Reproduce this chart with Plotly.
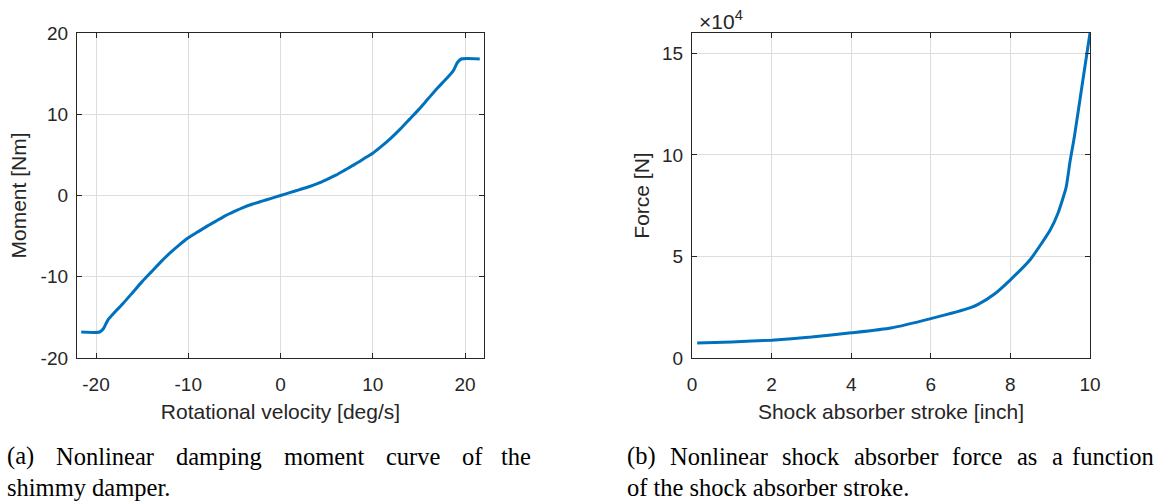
import plotly.graph_objects as go

# ---- Data (a): shimmy damper moment curve ----
vel_deg_s = [-21.6, -19.6, -19.2, -18.7, -18.0, -17.0, -16.0, -15.0, -14.0, -13.0, -12.0, -11.0,
             -10.0, -9.0, -8.0, -7.0, -6.0, -5.0, -4.0, -3.0, -2.0, -1.0, 0.0,
             1.0, 2.0, 3.0, 4.0, 5.0, 6.0, 7.0, 8.0, 9.0, 10.0, 11.0, 12.0, 13.0, 14.0,
             15.0, 16.0, 17.0, 18.0, 18.7, 19.2, 19.6, 21.6]
moment_Nm = [-16.8, -16.8, -16.4, -15.3, -14.4, -13.2, -11.9, -10.6, -9.4, -8.2, -7.1, -6.1,
             -5.2, -4.5, -3.8, -3.15, -2.5, -1.95, -1.45, -1.05, -0.7, -0.35, 0.0,
             0.35, 0.7, 1.05, 1.45, 1.95, 2.5, 3.15, 3.8, 4.5, 5.2, 6.1, 7.1, 8.2, 9.4,
             10.6, 11.9, 13.2, 14.4, 15.3, 16.4, 16.8, 16.8]

# ---- Data (b): shock absorber force vs stroke ----
stroke_inch = [0.13, 1.0, 2.0, 3.0, 4.0, 5.0, 6.0, 7.0, 7.2, 7.6, 8.0, 8.5, 9.0, 9.2, 9.4,
               9.5, 9.6, 9.8, 10.0]
force_N = [7400, 7900, 8800, 10300, 12400, 14800, 19400, 24800, 26500, 31500, 38500, 48500,
           63000, 71500, 84000, 97000, 108000, 134000, 160000]

x_ticks_a = [-20, -10, 0, 10, 20]
x_ticktext_a = ["-20", "-10", "0", "10", "20"]
y_ticks_a = [-20, -10, 0, 10, 20]
y_ticktext_a = ["-20", "-10", "0", "10", "20"]
x_ticks_b = [0, 2, 4, 6, 8, 10]
y_ticks_b = [0, 50000, 100000, 150000]
y_ticktext_b = ["0", "5", "10", "15"]

W, H = 1161, 504
BLUE = "#0072BD"
AX = "#262626"
GRID = "#dedede"
TICKFONT = dict(family="Liberation Sans, Arial, sans-serif", size=19, color=AX)
TITLEFONT = dict(family="Liberation Sans, Arial, sans-serif", size=21, color=AX)
CAPFONT = dict(family="Liberation Serif, Times New Roman, serif", size=24.5, color="black")

def px_x(p):
    return p / W

def px_y(p):
    return 1 - p / H

fig = go.Figure()
fig.add_trace(go.Scatter(x=vel_deg_s, y=moment_Nm, mode="lines",
                         line=dict(color=BLUE, width=3, shape="spline", smoothing=0.6),
                         xaxis="x", yaxis="y", showlegend=False))
fig.add_trace(go.Scatter(x=stroke_inch, y=force_N, mode="lines",
                         line=dict(color=BLUE, width=3, shape="spline", smoothing=0.5),
                         xaxis="x2", yaxis="y2", showlegend=False))

common = dict(showline=True, linecolor=AX, linewidth=1.3, mirror="ticks", ticks="inside",
              ticklen=5, tickwidth=1.3, tickcolor=AX, showgrid=True, gridcolor=GRID,
              gridwidth=1.3, zeroline=False, tickfont=TICKFONT, automargin=False)

fig.update_layout(
    width=W, height=H,
    margin=dict(l=0, r=0, t=0, b=0),
    paper_bgcolor="white", plot_bgcolor="white",
    xaxis=dict(domain=[px_x(77), px_x(484)], range=[-22.06, 22.06], tickvals=x_ticks_a,
               ticktext=x_ticktext_a, anchor="y", ticklabelstandoff=9,
               title=dict(text="Rotational velocity [deg/s]", font=TITLEFONT, standoff=10),
               **common),
    yaxis=dict(domain=[px_y(358), px_y(33)], range=[-20, 20], tickvals=y_ticks_a,
               ticktext=y_ticktext_a, anchor="x", ticklabelstandoff=4,
               title=dict(text="Moment [Nm]", font=TITLEFONT, standoff=8),
               **common),
    xaxis2=dict(domain=[px_x(692), px_x(1090)], range=[0, 10], tickvals=x_ticks_b,
                anchor="y2", ticklabelstandoff=9,
                title=dict(text="Shock absorber stroke [inch]", font=TITLEFONT, standoff=10),
                **common),
    yaxis2=dict(domain=[px_y(358), px_y(33)], range=[0, 160000], tickvals=y_ticks_b,
                ticktext=y_ticktext_b, anchor="x2", ticklabelstandoff=4,
                title=dict(text="Force [N]", font=TITLEFONT, standoff=6), **common),
)

annos = []
annos.append(dict(text="×10<sup>4</sup>", x=px_x(697), y=px_y(20), xref="paper", yref="paper",
                  xanchor="left", yanchor="middle", showarrow=False,
                  font=dict(family=TICKFONT["family"], size=21, color=AX)))

# captions (justified first lines placed word by word)
cap_a1 = [("(a)", 5), ("Nonlinear", 54), ("damping", 174), ("moment", 282), ("curve", 384),
          ("of", 460)]
cap_b1 = [("(b)", 625), ("Nonlinear", 668), ("shock", 780), ("absorber", 852), ("force", 950),
          ("as", 1015), ("a", 1050)]
for w, xp in cap_a1 + cap_b1:
    annos.append(dict(text=w, x=px_x(xp), y=px_y(456), xref="paper", yref="paper",
                      xanchor="left", yanchor="middle", showarrow=False, font=CAPFONT))
annos.append(dict(text="the", x=px_x(533), y=px_y(456), xref="paper", yref="paper",
                  xanchor="right", yanchor="middle", showarrow=False, font=CAPFONT))
annos.append(dict(text="function", x=px_x(1156), y=px_y(456), xref="paper", yref="paper",
                  xanchor="right", yanchor="middle", showarrow=False, font=CAPFONT))
annos.append(dict(text="shimmy damper.", x=px_x(5), y=px_y(487), xref="paper", yref="paper",
                  xanchor="left", yanchor="middle", showarrow=False, font=CAPFONT))
annos.append(dict(text="of the shock absorber stroke.", x=px_x(625), y=px_y(487), xref="paper",
                  yref="paper", xanchor="left", yanchor="middle", showarrow=False, font=CAPFONT))
fig.update_layout(annotations=annos)

fig.write_html("out.html", config={"displayModeBar": False},
               post_script="document.body.style.margin='0';document.body.style.overflow='hidden';")
